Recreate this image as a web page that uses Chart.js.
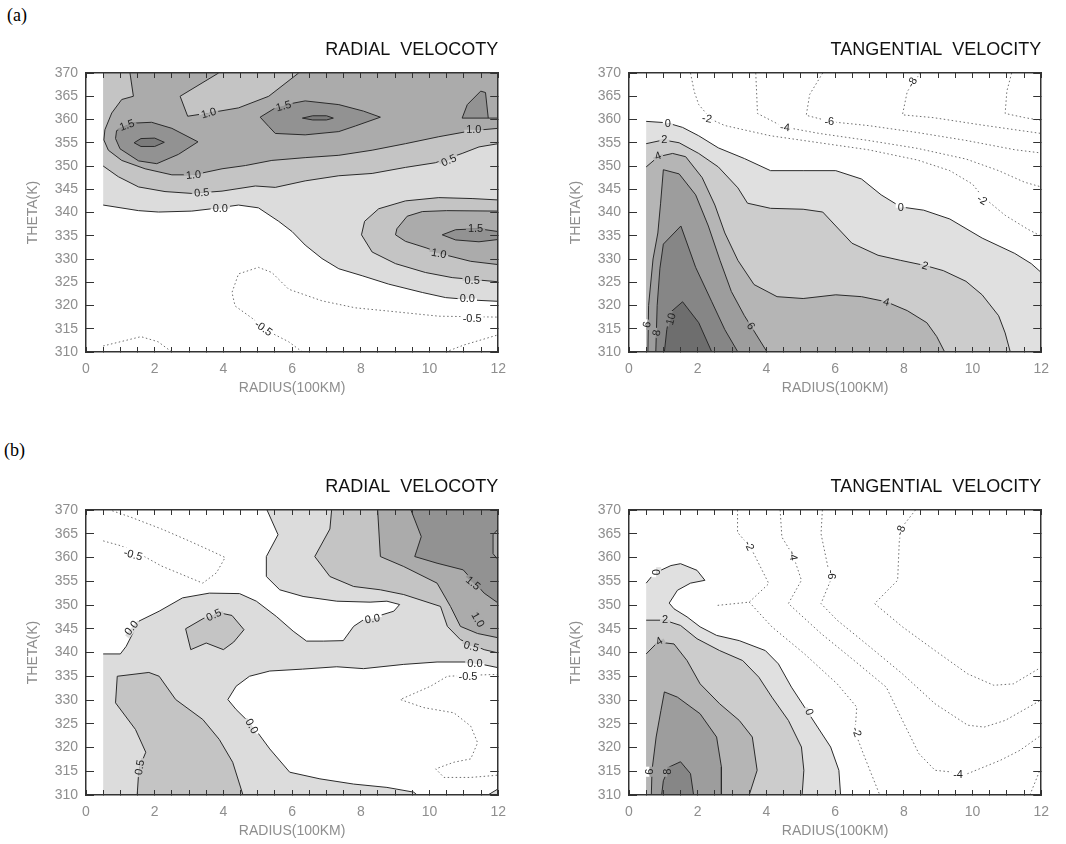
<!DOCTYPE html>
<html>
<head>
<meta charset="utf-8">
<script src="https://cdn.jsdelivr.net/npm/chart.js@4.4.1/dist/chart.umd.min.js"></script>
<style>
  body { margin: 0; background: #fff; width: 1066px; height: 844px; position: relative; overflow: hidden; }
  .tag { position: absolute; font-family: "Liberation Serif", "Times New Roman", serif; font-size: 18px; color: #000; }
  canvas { position: absolute; }
</style>
</head>
<body>
<div class="tag" style="left:7px;top:5px">(a)</div>
<div class="tag" style="left:4px;top:440px">(b)</div>
<canvas id="radialA"></canvas>
<canvas id="tangA"></canvas>
<canvas id="radialB"></canvas>
<canvas id="tangB"></canvas>
<script>
// contour lines are [radius (100 km), theta (K)] pairs

// ---- (a) radial velocity ----
const raZero = [[0.5,341.6],[1.53,340.4],[2.11,340.1],[3.08,340.3],[3.66,340.8],[4.44,341.6],[5.02,341.0],[5.61,338.1],[6.0,335.9],[6.38,333.0],[6.87,330.1],[7.36,327.9],[8.04,326.4],[8.81,324.6],[9.79,322.8],[10.47,321.7],[11.44,321.1],[12,320.9]];
const raHalfTop = [[0.5,350.0],[0.94,347.7],[1.53,345.5],[2.3,344.5],[3.08,344.1],[3.96,344.6],[4.93,345.7],[5.51,345.4],[6.38,346.8],[7.36,347.9],[8.33,348.4],[9.3,349.7],[10.17,350.7],[10.95,352.7],[11.44,354.1],[12,354.8]];
const raHalfLow = [[12,342.7],[11.24,343.0],[10.27,343.2],[9.3,342.5],[8.52,340.8],[8.11,338.1],[8.02,335.2],[8.33,331.5],[9.01,329.0],[9.88,327.1],[10.66,326.0],[12,325.1]];
const raOneTop = [[1.28,370],[1.38,365],[1.04,364.3],[0.75,361.4],[0.55,357.8],[0.52,355.6],[0.65,353.4],[1.04,351.2],[1.72,349.4],[2.5,348.1],[3.13,348.1],[3.96,349.4],[4.64,350.1],[5.41,351.2],[6.38,351.8],[7.36,352.3],[8.33,353.4],[9.3,354.8],[10.27,356.3],[11.24,357.6],[12,358.1]];
const raOneNotch = [[3.86,370],[2.74,365],[2.96,360.7],[3.57,361.4],[4.44,362.5],[5.32,365],[6.19,370]];
const raOneLow = [[12,340.3],[10.5,340.4],[9.79,340.2],[9.35,339.2],[9.05,336.5],[9.01,335.2],[9.3,333.8],[9.9,332.4],[10.5,330.8],[11.2,329.5],[12,328.8]];
const raOneHalfA = [[0.89,357.6],[1.33,359.2],[1.91,359.4],[2.5,358.1],[3.26,355.2],[2.69,352.5],[2.06,350.5],[1.53,351.1],[0.99,353.7],[0.86,355.9],[0.89,357.6]];
const raOneHalfB = [[5.07,360.5],[5.6,362.9],[6.38,364.0],[7.36,363.2],[8.08,361.8],[8.57,360.5],[7.84,358.6],[7.36,357.4],[6.38,356.7],[5.51,357.0],[5.32,358.5],[5.07,360.5]];
const raOneHalfC = [[12,360.3],[10.95,360.3],[11.1,363.2],[11.49,366.1],[11.63,365.8],[11.71,360.3]];
const raOneHalfD = [[12,335.9],[11.44,336.5],[10.76,336.3],[10.37,335.2],[10.76,334.1],[11.44,333.7],[12,334.2]];
const raTwoA = [[1.4,355],[1.6,355.9],[2.0,356.0],[2.28,355.1],[2.0,354.2],[1.6,354.2],[1.4,355]];
const raTwoB = [[6.3,360.3],[6.6,360.8],[7.0,360.8],[7.2,360.3],[7.0,359.9],[6.6,359.9],[6.3,360.3]];
const raNegA = [[6.3,310],[5.9,312.2],[5.32,314.4],[4.83,317.3],[4.34,319.9],[4.25,322.8],[4.44,326.8],[5.02,328.2],[5.41,327.1],[5.9,323.5],[6.87,321.0],[7.84,319.5],[8.81,318.8],[10.27,317.7],[12,317.5]];
const raNegB = [[0.5,311.3],[1.0,312.2],[1.6,313.3],[2.1,312.2],[2.5,310]];
const raNegC = [[10.47,310],[11.0,311.5],[12,313.7]];
const raLabels = [[1.19,358.8,'1.5',-20],[5.75,362.9,'1.5',-15],[3.57,361.4,'1.0',-15],[3.13,348.1,'1.0',-5],[3.37,344.3,'0.5',-5],[3.91,340.8,'0.0',0],[11.29,357.8,'1.0',0],[10.56,351.2,'0.5',-25],[11.34,336.6,'1.5',0],[10.27,331.2,'1.0',10],[11.24,325.3,'0.5',0],[11.1,321.5,'0.0',0],[11.24,317.3,'-0.5',0],[5.17,315.1,'-0.5',35]];

// ---- (a) tangential velocity ----
const taZero = [[0.5,359.6],[1.1,359.3],[1.56,358.3],[2.03,356.5],[2.6,353.9],[3.36,351.6],[4.12,349.0],[5.07,349.0],[6.02,349.0],[6.77,347.2],[7.34,343.8],[7.91,341.2],[8.58,340.5],[9.34,338.6],[10.28,334.5],[11.23,331.2],[11.71,329.0],[12,327.1]];
const taTwo = [[0.5,354.8],[1.0,355.6],[1.46,355.0],[2.03,352.7],[2.6,349.8],[3.17,345.3],[3.45,342.0],[4.12,340.9],[5.07,340.7],[5.64,340.1],[6.02,337.1],[6.49,333.4],[7.25,330.8],[7.91,329.7],[8.62,328.6],[9.15,327.5],[9.81,325.2],[10.28,322.3],[10.76,317.8],[10.95,314.1],[11.1,310]];
const taFour = [[0.5,349.8],[0.85,352.0],[1.27,352.7],[1.65,352.0],[2.13,347.5],[2.5,341.6],[2.79,335.6],[3.17,329.7],[3.64,324.5],[4.31,321.9],[5.07,321.5],[6.02,322.3],[6.77,321.9],[7.49,320.8],[8.1,318.9],[8.67,316.3],[8.96,313.3],[9.19,310]];
const taSix = [[0.55,310],[0.57,320],[0.7,330],[0.84,335.6],[0.92,342],[1.0,349.2],[1.46,348.3],[1.94,343.8],[2.31,337.1],[2.65,329.7],[2.98,323.0],[3.36,317.8],[3.64,314.5],[4.02,310]];
const taEight = [[0.78,310],[0.82,320],[0.9,328],[1.0,333.2],[1.51,337.1],[1.94,328.2],[2.41,320.8],[2.79,314.8],[3.17,310]];
const taTen = [[1.03,310],[1.1,314.8],[1.2,318.5],[1.56,320.8],[2.03,316.3],[2.41,310]];
const taNegTwo = [[1.79,370],[1.9,366],[2.03,363.2],[2.4,360],[2.79,358.7],[4.12,356.5],[5.54,355.0],[6.96,353.5],[8.39,351.3],[9.34,349.0],[10.0,346.1],[10.28,343.5],[10.95,339.4],[11.61,336.4],[12,334.9]];
const taNegFour = [[3.69,370],[3.72,365],[3.74,361.3],[4.5,358.4],[5.54,357.0],[6.96,355.5],[8.39,353.8],[9.81,351.5],[10.76,349.0],[11.52,346.5],[12,345.5]];
const taNegSix = [[5.64,370],[5.26,365.4],[5.16,360.9],[5.9,359.5],[6.96,358.7],[8.39,357.2],[9.81,355.5],[11.23,353.5],[12,352.8]];
const taNegEight = [[8.48,370],[8.1,366],[7.96,361],[8.86,360.4],[10.28,358.8],[12,357.0]];
const taNegTen = [[11.14,370],[11.0,366.1],[10.95,361.3],[11.52,360.4],[12,359.8]];
const taLabels = [[1.13,359.1,'0',0],[1.03,355.7,'2',0],[0.84,352.2,'4',-20],[0.52,315.9,'6',-80],[0.8,314.1,'8',-80],[1.22,317.1,'10',-75],[3.55,315.6,'6',55],[7.49,320.8,'4',15],[8.62,328.6,'2',15],[7.91,341.0,'0',0],[2.27,360.2,'-2',10],[4.54,358.3,'-4',5],[5.83,359.6,'-6',0],[8.24,368,'-8',-60],[10.28,342.7,'-2',30]];

// ---- (b) radial velocity ----
const rbZeroUpper = [[0.5,339.7],[1.0,339.7],[1.17,341.3],[1.54,346.6],[2.13,348.7],[2.81,351.5],[3.59,352.5],[4.47,352.4],[4.96,350.8],[5.54,347.6],[6.03,344.5],[6.42,342.4],[6.91,342.4],[7.49,342.5],[7.79,345.5],[8.08,346.9],[8.47,347.6],[8.96,348.7],[9.13,350.1],[8.76,350.8],[8.27,350.6],[7.3,350.8],[6.32,351.8],[5.64,353.2],[5.25,356.0],[5.25,360.2],[5.59,364.8],[5.27,370]];
const rbZeroLower = [[12,336.8],[11.2,338.0],[10.22,338.0],[9.25,337.5],[8.08,336.6],[7.3,337.0],[6.3,336.5],[5.35,336.1],[4.76,335.0],[4.37,332.9],[4.13,330.1],[4.37,328.0],[4.86,324.5],[5.35,319.7],[5.93,314.8],[6.81,313.4],[7.79,312.3],[8.76,311.6],[9.54,310.6],[9.64,310]];
const rbZeroCorner = [[11.7,310],[12,311.3]];
const rbHalfBlob = [[2.9,345],[3.45,347.3],[3.85,348.4],[4.25,347.8],[4.6,344.8],[4.3,342.2],[4.0,340.6],[3.5,342],[3.05,340.6],[2.9,345]];
const rbHalfLeft = [[1.49,310],[1.54,315.5],[1.74,319.0],[1.44,323.8],[0.86,329.4],[0.91,335.0],[1.83,335.8],[2.13,335.0],[2.61,330.1],[3.4,325.9],[3.88,321.7],[4.27,316.9],[4.57,310]];
const rbHalfRight = [[7.15,370],[7.1,366],[6.66,360.2],[7.1,356.0],[7.79,353.9],[8.57,353.2],[9.25,352.2],[10.32,349.7],[10.52,345.5],[10.9,342.7],[11.59,340.6],[12,339.9]];
const rbOne = [[8.49,370],[8.57,360.2],[9.25,358.1],[10.22,354.6],[10.61,349.7],[10.9,345.5],[11.4,344],[12,343.1]];
const rbOneHalf = [[9.46,370],[9.76,364.4],[9.57,360.2],[10.22,358.8],[10.98,357.4],[11.59,352.5],[12,350.4]];
const rbOneHalfNotch = [[12,359.5],[11.85,360.8],[11.85,364.8],[12,366]];
const rbNegA = [[0.5,363.5],[1.0,362.5],[1.5,361],[2.2,358.2],[3.0,355.8],[3.4,354.6],[3.8,356.8],[4.05,360],[3.7,361.2],[3.0,363.5],[2.2,366],[1.3,368.5],[0.7,370]];
const rbNegB = [[12,335.4],[11.2,335.2],[10.52,335.0],[10.03,332.9],[9.15,330.1],[9.83,328.4],[10.71,327.3],[11.2,324.5],[11.4,321.0],[11.2,317.6],[10.71,316.9],[10.18,315.5],[10.42,313.7],[11.2,313.7],[11.88,314.1],[12,314.2]];
const rbLabels = [[1.32,345.2,'0.0',-50],[3.72,347.9,'0.5',-25],[8.34,347.1,'0.0',-10],[11.27,354.6,'1.5',40],[11.41,346.9,'1.0',60],[11.22,341.3,'0.5',15],[11.32,337.7,'0.0',0],[11.12,335.0,'-0.5',0],[1.37,360.6,'-0.5',15],[4.83,324.5,'0.0',60],[1.56,315.8,'0.5',-80]];

// ---- (b) tangential velocity ----
const tbZero = [[0.5,354.6],[0.74,356.7],[1.22,358.3],[1.5,358.7],[1.98,357.3],[2.21,355.2],[1.79,354.6],[1.41,353.1],[1.17,350.4],[1.31,349.2],[1.69,347.5],[2.07,345.4],[2.55,343.6],[3.21,342.5],[3.97,340.4],[4.35,337.6],[4.73,332.7],[5.11,328.5],[5.49,324.3],[5.87,320.1],[6.11,315.2],[6.16,310]];
const tbTwo = [[0.5,346.8],[1.03,346.8],[1.5,345.7],[1.98,342.9],[2.64,340.4],[3.31,338.3],[3.78,334.8],[4.16,330.6],[4.64,325.7],[5.02,320.1],[5.09,315.2],[5.04,310]];
const tbFour = [[0.5,339.7],[0.84,342.2],[1.31,341.8],[1.69,338.3],[2.07,333.4],[2.64,329.2],[3.21,325.7],[3.59,322.2],[3.73,315.2],[3.5,310]];
const tbSix = [[0.65,310],[0.67,315.2],[0.79,322.2],[0.93,327.8],[1.03,331.7],[1.41,330.6],[2.07,327.1],[2.55,322.2],[2.69,315.9],[2.69,310]];
const tbEight = [[0.95,310],[1.0,313],[1.17,315.9],[1.5,317.0],[1.79,314.5],[1.88,310]];
const tbNegTwoA = [[3.16,370],[3.16,365.3],[3.55,362],[4.07,354.5],[3.5,350.6],[2.55,349.9]];
const tbNegTwoB = [[3.5,350.6],[4.16,345.4],[5.11,339.7],[6.06,333.4],[6.63,328.5],[6.58,323.3],[6.82,318.7],[7.3,310]];
const tbNegFour = [[4.4,370],[4.45,364.3],[4.78,360.4],[5.02,355.2],[4.64,350.3],[5.59,344.0],[6.54,338.4],[7.49,332.7],[7.96,325.7],[8.44,318.7],[8.91,315.2],[9.86,314.5],[10.81,317.3],[11.38,319.4],[12,322.6]];
const tbNegSix = [[5.63,370],[5.59,365],[5.87,355.2],[5.59,350.3],[6.06,346.8],[7.01,341.2],[7.96,335.5],[8.91,329.2],[9.86,324.7],[10.34,324.3],[10.95,325.7],[12,330.0]];
const tbNegEight = [[8.34,370],[7.96,366.5],[7.87,363.6],[7.82,355.2],[7.15,350.3],[7.96,345.4],[8.91,340.4],[9.86,335.5],[10.62,333.1],[11.19,333.4],[12,336.9]];
const tbNegCorner = [[11.67,310],[12,315.9]];
const tbLabels = [[0.79,356.9,'0',-90],[1.05,346.9,'2',0],[0.88,342.4,'4',-30],[0.6,314.9,'6',-90],[1.12,314.9,'8',-90],[5.25,327.5,'0',70],[3.5,362.5,'-2',65],[4.78,360.4,'-4',80],[5.89,356.4,'-6',90],[7.91,365.7,'-8',-70],[6.63,323.3,'-2',70],[9.58,314.4,'-4',0]];

// axis ticks
const radiusRange = [0, 12];
const thetaRange = [310, 370];
const radiusStep = 0.5;
const thetaStep = 5;

// grey shades for the filled levels, lowest level first
const radialShades = ['#dcdcdc', '#c4c4c4', '#ababab', '#929292', '#7b7b7b'];
const tangShades = ['#e0e0e0', '#cccccc', '#b5b5b5', '#9d9d9d', '#868686', '#6e6e6e'];

const FONT = '"Liberation Sans", Arial, sans-serif';
const tickGrey = '#8e8e8e';
const frameColor = '#333';
const AXIS_W = 61.4, AXIS_H = 45;

function toPoints(arr) {
  return arr.map(([x, y]) => ({x, y}));
}

// colour already painted next to a label; skips dark line pixels, transparent counts as white
function pickColor(ctx, px, py, nx, ny) {
  for (const dist of [7, 9, 11, 5]) {
    const d = ctx.getImageData(Math.round(px + nx * dist), Math.round(py + ny * dist), 1, 1).data;
    if (d[3] < 128) return '#fff';
    if (d[0] + d[1] + d[2] > 270) return `rgb(${d[0]},${d[1]},${d[2]})`;
  }
  return '#fff';
}

// text labels sitting on the contour lines, cutting a gap in the line like IDL does
const contourLabels = {
  id: 'contourLabels',
  afterDatasetsDraw(chart, args, opts) {
    const {ctx, scales: {x, y}} = chart;
    ctx.save();
    ctx.font = '11px ' + FONT;
    ctx.textAlign = 'center';
    ctx.textBaseline = 'middle';
    (opts.items || []).forEach(([vx, vy, text, rot]) => {
      const px = x.getPixelForValue(vx);
      const py = y.getPixelForValue(vy);
      const a = rot * Math.PI / 180;
      const nx = -Math.sin(a), ny = Math.cos(a);
      const above = pickColor(ctx, px, py, -nx, -ny);
      const below = pickColor(ctx, px, py, nx, ny);
      const w = ctx.measureText(text).width + 4;
      ctx.save();
      ctx.translate(px, py);
      ctx.rotate(a);
      ctx.fillStyle = above;
      ctx.fillRect(-w / 2, -5, w, 5);
      ctx.fillStyle = below;
      ctx.fillRect(-w / 2, 0, w, 5);
      ctx.fillStyle = '#222';
      ctx.fillText(text, 0, 0.5);
      ctx.restore();
    });
    ctx.restore();
  }
};

function xAxis(position, showLabels) {
  return {
    type: 'linear', position, min: radiusRange[0], max: radiusRange[1],
    border: {display: true, color: frameColor, width: 1.5, z: 2},
    grid: {display: true, drawOnChartArea: false, drawTicks: true, tickLength: -5, tickColor: frameColor, tickWidth: 1, z: 1},
    ticks: {
      display: showLabels, stepSize: radiusStep, autoSkip: false, maxRotation: 0, padding: 14,
      color: tickGrey, font: {family: FONT, size: 14},
      callback: v => (v % 2 === 0 ? String(v) : '')
    },
    title: {display: showLabels, text: 'RADIUS(100KM)', color: tickGrey, font: {family: FONT, size: 14}, padding: 0},
    afterFit: s => { s.height = showLabels ? AXIS_H : 0; }
  };
}

function yAxis(position, showLabels) {
  return {
    type: 'linear', position, min: thetaRange[0], max: thetaRange[1],
    border: {display: true, color: frameColor, width: 1.5, z: 2},
    grid: {display: true, drawOnChartArea: false, drawTicks: true, tickLength: -8, tickColor: frameColor, tickWidth: 1, z: 1},
    ticks: {display: showLabels, stepSize: thetaStep, autoSkip: false, padding: 16, color: tickGrey, font: {family: FONT, size: 14}},
    title: {display: showLabels, text: 'THETA(K)', color: tickGrey, font: {family: FONT, size: 14}, padding: 0},
    afterFit: s => { s.width = showLabels ? AXIS_W : 0; }
  };
}

function makePanel(id, frame, title, layers, shades, solids, dots, labels) {
  const canvas = document.getElementById(id);
  canvas.width = frame.width + 80;
  canvas.height = frame.height + 90;
  canvas.style.left = (frame.left - 70) + 'px';
  canvas.style.top = (frame.top - 40) + 'px';

  const datasets = [];
  layers.forEach((polys, level) => {
    polys.forEach(poly => datasets.push({
      data: toPoints(poly), fill: 'shape', backgroundColor: shades[level],
      borderColor: 'rgba(0,0,0,0)', borderWidth: 0
    }));
  });
  solids.forEach(line => datasets.push({data: toPoints(line), fill: false, borderColor: '#2a2a2a', borderWidth: 1}));
  dots.forEach(line => datasets.push({data: toPoints(line), fill: false, borderColor: '#6e6e6e', borderWidth: 1, borderDash: [1.5, 2.5]}));
  // chart.js paints high "order" first, so the first dataset ends up at the bottom
  datasets.forEach((d, i) => {
    d.order = datasets.length - i;
    d.pointRadius = 0;
    d.tension = 0;
    d.xAxisID = 'x';
    d.yAxisID = 'y';
  });

  return new Chart(canvas, {
    type: 'line',
    data: {datasets},
    options: {
      responsive: false,
      animation: false,
      events: [],
      layout: {padding: {left: 70 - AXIS_W, right: 10, top: 0, bottom: 5}},
      plugins: {
        legend: {display: false},
        tooltip: {enabled: false},
        title: {
          display: true, text: title, align: 'end', fullSize: false, color: '#111',
          font: {family: FONT, size: 18, weight: 'normal'}, padding: {top: 6.2, bottom: 12.2}
        },
        contourLabels: {items: labels}
      },
      scales: {
        x: xAxis('bottom', true),
        x2: xAxis('top', false),
        y: yAxis('left', true),
        y2: yAxis('right', false)
      }
    },
    plugins: [contourLabels]
  });
}

makePanel('radialA', {left: 86, top: 73, width: 424, height: 279}, 'RADIAL  VELOCOTY',
  [
    [[...raZero, [12, 370], [0.5, 370]]],
    [[...raHalfTop, [12, 370], [0.5, 370]], raHalfLow],
    [[...raOneTop, [12, 370], ...raOneNotch.slice().reverse()], raOneLow],
    [raOneHalfA, raOneHalfB, raOneHalfC, raOneHalfD],
    [raTwoA, raTwoB]
  ], radialShades,
  [raZero, raHalfTop, raHalfLow, raOneTop, raOneNotch, raOneLow, raOneHalfA, raOneHalfB, raOneHalfC, raOneHalfD, raTwoA, raTwoB],
  [raNegA, raNegB, raNegC], raLabels);

makePanel('tangA', {left: 629, top: 73, width: 424, height: 279}, 'TANGENTIAL  VELOCITY',
  [
    [[...taZero, [12, 310], [0.5, 310]]],
    [[...taTwo, [0.5, 310]]],
    [[...taFour, [0.5, 310]]],
    [taSix], [taEight], [taTen]
  ], tangShades,
  [taZero, taTwo, taFour, taSix, taEight, taTen],
  [taNegTwo, taNegFour, taNegSix, taNegEight, taNegTen], taLabels);

makePanel('radialB', {left: 86, top: 510, width: 424, height: 285}, 'RADIAL  VELOCOTY',
  [
    [[[0.5, 310], ...rbZeroUpper, [12, 370], ...rbZeroLower], [...rbZeroCorner, [12, 310]]],
    [rbHalfBlob, rbHalfLeft, [...rbHalfRight, [12, 370]]],
    [[...rbOne, [12, 370]]],
    [[...rbOneHalf, ...rbOneHalfNotch, [12, 370]]]
  ], radialShades,
  [rbZeroUpper, rbZeroLower, rbZeroCorner, rbHalfBlob, rbHalfLeft, rbHalfRight, rbOne, rbOneHalf, rbOneHalfNotch],
  [rbNegA, rbNegB], rbLabels);

makePanel('tangB', {left: 629, top: 510, width: 424, height: 285}, 'TANGENTIAL  VELOCITY',
  [
    [[...tbZero, [0.5, 310]]],
    [[...tbTwo, [0.5, 310]]],
    [[...tbFour, [0.5, 310]]],
    [tbSix], [tbEight]
  ], tangShades,
  [tbZero, tbTwo, tbFour, tbSix, tbEight],
  [tbNegTwoA, tbNegTwoB, tbNegFour, tbNegSix, tbNegEight, tbNegCorner], tbLabels);
</script>
</body>
</html>
